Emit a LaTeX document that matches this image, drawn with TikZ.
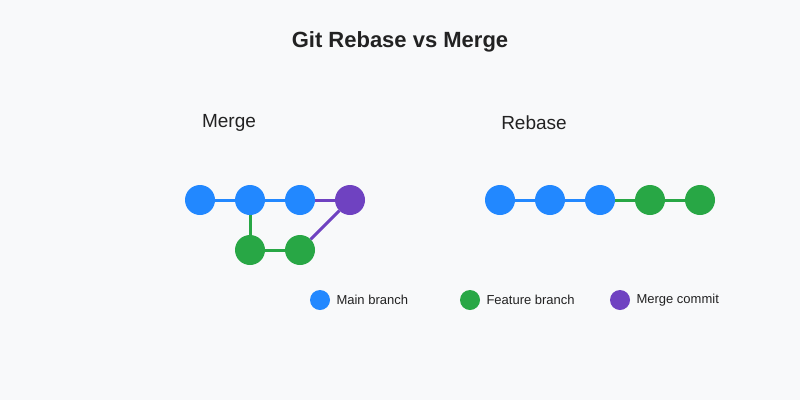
\documentclass[tikz,border=0pt]{standalone}
\usepackage{fontspec}
\setmainfont{Liberation Sans}
\definecolor{bg}{HTML}{F8F9FA}
\definecolor{mainb}{HTML}{2288FF}
\definecolor{feat}{HTML}{28A745}
\definecolor{merg}{HTML}{6F42C1}
\definecolor{txt}{HTML}{222222}
\begin{document}
\begin{tikzpicture}[x=1pt,y=-1pt,
  c/.style={circle,fill=#1,minimum size=30pt,inner sep=0pt},
  lg/.style={circle,fill=#1,minimum size=20pt,inner sep=0pt},
  ln/.style={draw=#1,line width=3pt},
  lt/.style={anchor=west,font=\fontsize{13}{15}\selectfont,text=txt}]
\fill[bg] (0,0) rectangle (800,400);
\useasboundingbox (0,0) rectangle (800,400);
\node[font=\fontsize{22}{26}\selectfont\bfseries,text=txt] (title) at (400,42) {Git Rebase vs Merge};
\node[font=\fontsize{19}{22}\selectfont,text=txt] (mt) at (229,123) {Merge};
\node[font=\fontsize{19}{22}\selectfont,text=txt] (rt) at (534,123) {Rebase};
% merge
\node[c=mainb] (m1) at (200,200) {};
\node[c=mainb] (m2) at (250,200) {};
\node[c=mainb] (m3) at (300,200) {};
\node[c=merg] (mm) at (350,200) {};
\node[c=feat] (f1) at (250,250) {};
\node[c=feat] (f2) at (300,250) {};
\draw[ln=mainb] (m1) -- (m2);
\draw[ln=mainb] (m2) -- (m3);
\draw[ln=merg] (m3) -- (mm);
\draw[ln=feat] (m2) -- (f1);
\draw[ln=feat] (f1) -- (f2);
\draw[ln=merg] (f2) -- (mm);
% rebase
\node[c=mainb] (r1) at (500,200) {};
\node[c=mainb] (r2) at (550,200) {};
\node[c=mainb] (r3) at (600,200) {};
\node[c=feat] (r4) at (650,200) {};
\node[c=feat] (r5) at (700,200) {};
\draw[ln=mainb] (r1) -- (r2);
\draw[ln=mainb] (r2) -- (r3);
\draw[ln=feat] (r3) -- (r4);
\draw[ln=feat] (r4) -- (r5);
% legend
\node[lg=mainb] (l1) at (320,300) {};
\node[lt] (t1) at (333,300) {Main branch};
\node[lg=feat] (l2) at (470,300) {};
\node[lt] (t2) at (483,300) {Feature branch};
\node[lg=merg] (l3) at (620,300) {};
\node[lt] (t3) at (633,300) {Merge commit};
\end{tikzpicture}
\end{document}
